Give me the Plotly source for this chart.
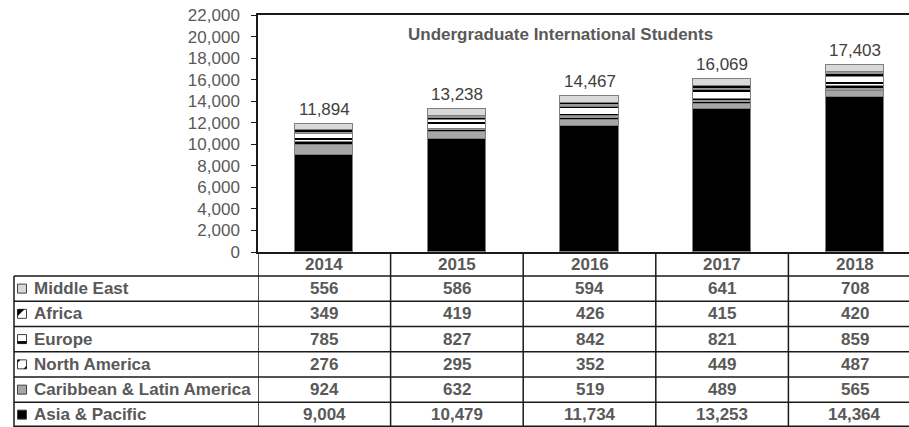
import plotly.graph_objects as go

W, H = 909, 427

years = ["2014", "2015", "2016", "2017", "2018"]
regions = ["Middle East", "Africa", "Europe", "North America",
           "Caribbean & Latin America", "Asia & Pacific"]
middle_east = [556, 586, 594, 641, 708]
africa = [349, 419, 426, 415, 420]
europe = [785, 827, 842, 821, 859]
north_america = [276, 295, 352, 449, 487]
caribbean = [924, 632, 519, 489, 565]
asia_pacific = [9004, 10479, 11734, 13253, 14364]
totals = [11894, 13238, 14467, 16069, 17403]
title_text = "Undergraduate International Students"

series = {
    "Middle East": middle_east,
    "Africa": africa,
    "Europe": europe,
    "North America": north_america,
    "Caribbean & Latin America": caribbean,
    "Asia & Pacific": asia_pacific,
}

# style per region: (bg, fg, shape, size, solidity)
styles = {
    "Asia & Pacific": ("#000000", None, "", 0, 0),
    "Caribbean & Latin America": ("#a6a6a6", None, "", 0, 0),
    "North America": ("#000000", "#ffffff", "-", 4, 0.3),
    "Europe": ("#ffffff", "#000000", "-", 8, 0.25),
    "Africa": ("#000000", "#ffffff", "-", 4, 0.3),
    "Middle East": ("#d9d9d9", None, "", 0, 0),
}

FONT = "Arial, 'Liberation Sans', sans-serif"
TXT = "#595959"
TFS = 17

def px(x):
    return x / W

def py(y):
    return 1 - y / H

x_idx = list(range(len(years)))
fig = go.Figure()
for name in ["Asia & Pacific", "Caribbean & Latin America", "North America",
             "Europe", "Africa", "Middle East"]:
    bg, fg, shp, sz, sol = styles[name]
    marker = dict(color=bg, line=dict(color="#7f7f7f", width=1))
    if shp:
        marker["pattern"] = dict(shape=shp, bgcolor=bg, fgcolor=fg,
                                 size=sz, solidity=sol, fillmode="replace")
    fig.add_trace(go.Bar(x=x_idx, y=series[name], name=name, marker=marker,
                         width=0.44, showlegend=False, hoverinfo="y+name"))

annotations = []
# totals above bars
for i, t in enumerate(totals):
    annotations.append(dict(x=i, y=t, xref="x", yref="y", text=f"{t:,}",
                            showarrow=False, xanchor="center", yanchor="bottom",
                            yshift=3,
                            font=dict(family=FONT, size=17, color="#404040")))
# title
annotations.append(dict(x=px(560), y=py(35), xref="paper", yref="paper",
                        xanchor="center", yanchor="middle",
                        text=f"<b>{title_text}</b>", showarrow=False,
                        font=dict(family=FONT, size=17, color=TXT)))

# table geometry
row_lines = [252, 276, 301.2, 326.5, 351.7, 377, 402.3, 427]
header_c = (row_lines[0] + row_lines[1]) / 2
for i, yr in enumerate(years):
    annotations.append(dict(x=i, y=py(header_c), xref="x", yref="paper",
                            xanchor="center", yanchor="middle",
                            text=f"<b>{yr}</b>", showarrow=False,
                            font=dict(family=FONT, size=TFS, color=TXT)))

shapes = []
for r, name in enumerate(regions):
    top, bot = row_lines[r + 1], row_lines[r + 2]
    c = (top + bot) / 2
    annotations.append(dict(x=px(32), y=py(c), xref="paper", yref="paper",
                            xanchor="left", yanchor="middle",
                            text=f"<b>{name}</b>", showarrow=False,
                            font=dict(family=FONT, size=TFS, color=TXT)))
    for i, v in enumerate(series[name]):
        annotations.append(dict(x=i, y=py(c), xref="x", yref="paper",
                                xanchor="center", yanchor="middle",
                                text=f"<b>{v:,}</b>", showarrow=False,
                                font=dict(family=FONT, size=TFS, color=TXT)))
    # legend key
    k0, k1 = 17.5, 26.5
    ky0, ky1 = c - 4.5, c + 4.5
    bg = styles[name][0]
    keyfill = bg if name in ("Asia & Pacific", "Caribbean & Latin America",
                             "Middle East") else "#ffffff"
    shapes.append(dict(type="rect", xref="paper", yref="paper",
                       x0=px(k0), x1=px(k1), y0=py(ky1), y1=py(ky0),
                       fillcolor=keyfill, line=dict(color="#404040", width=1)))
    if name == "Africa":
        shapes.append(dict(type="path", xref="paper", yref="paper",
                           path=f"M {px(k0)} {py(ky0)} L {px(k1-2)} {py(ky0)} L {px(k0)} {py(ky1-2)} Z",
                           fillcolor="#000000", line=dict(width=0)))
    elif name == "Europe":
        shapes.append(dict(type="rect", xref="paper", yref="paper",
                           x0=px(k0), x1=px(k1), y0=py(ky1), y1=py(ky1 - 2.5),
                           fillcolor="#000000", line=dict(width=0)))
    elif name == "North America":
        shapes.append(dict(type="path", xref="paper", yref="paper",
                           path=f"M {px(k0)} {py(ky0)} L {px(k0+3)} {py(ky0)} L {px(k0)} {py(ky0+3)} Z M {px(k1)} {py(ky1)} L {px(k1-3)} {py(ky1)} L {px(k1)} {py(ky1-3)} Z",
                           fillcolor="#000000", line=dict(width=0)))

LINE = dict(color="#1a1a1a", width=1.5)
# horizontal table lines
for y in row_lines[1:]:
    yy = min(y, H - 0.75)
    shapes.append(dict(type="line", xref="paper", yref="paper",
                       x0=px(14), x1=1, y0=py(yy), y1=py(yy), line=LINE))
# left border of label column
shapes.append(dict(type="line", xref="paper", yref="paper",
                   x0=px(14), x1=px(14), y0=py(row_lines[1]), y1=0, line=LINE))
# column boundaries
for b in [-0.5, 0.5, 1.5, 2.5, 3.5]:
    shapes.append(dict(type="line", xref="x", yref="paper",
                       x0=b, x1=b, y0=py(row_lines[0]), y1=0, line=LINE))

fig.update_layout(
    width=W, height=H,
    margin=dict(l=0, r=0, t=0, b=0, pad=0, autoexpand=False),
    paper_bgcolor="white", plot_bgcolor="white",
    barmode="stack", bargap=0,
    font=dict(family=FONT, color=TXT),
    xaxis=dict(domain=[px(258), 1], range=[-0.5, -0.5 + (W - 258) / 132.6],
               showticklabels=False, ticks="", showgrid=False, zeroline=False,
               showline=True, linecolor="#1a1a1a", linewidth=1.5, mirror=True,
               fixedrange=True, automargin=False),
    yaxis=dict(domain=[py(252), py(15)], range=[0, 22000], dtick=2000,
               tickformat=",", ticks="outside", ticklen=5, tickcolor="#1a1a1a",
               tickwidth=1, ticklabelstandoff=8,
               tickfont=dict(family=FONT, size=17, color=TXT),
               showgrid=False, zeroline=False, showline=True,
               linecolor="#1a1a1a", linewidth=1.5, fixedrange=True,
               automargin=False),
    annotations=annotations,
    shapes=shapes,
)

fig.write_html("out.html", config={"displayModeBar": False},
               post_script="document.body.style.margin='0px';document.body.style.overflow='hidden';")
